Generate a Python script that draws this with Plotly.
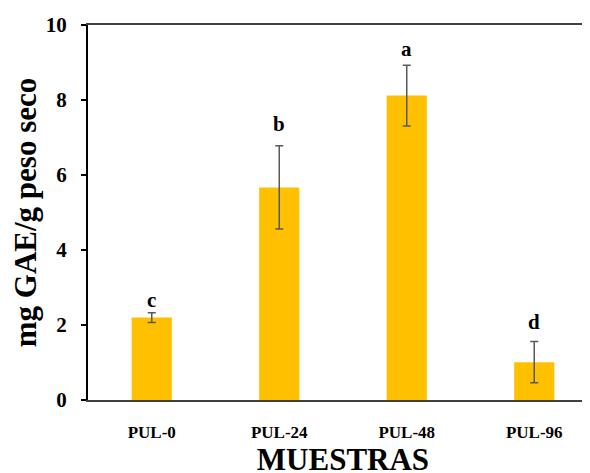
import plotly.graph_objects as go

categories = ["PUL-0", "PUL-24", "PUL-48", "PUL-96"]
values = [2.20, 5.67, 8.12, 1.01]
errors = [0.13, 1.11, 0.81, 0.55]
letters = ["c", "b", "a", "d"]
letter_y = [2.68, 7.37, 9.35, 2.07]
y_ticks = [0, 2, 4, 6, 8, 10]

FONT = "Liberation Serif"

fig = go.Figure()
fig.add_trace(go.Bar(
    x=list(range(len(categories))),
    y=values,
    width=0.315,
    marker=dict(color="#FFC000", line=dict(width=0)),
    error_y=dict(type="data", array=errors, visible=True,
                 color="#595959", thickness=1.5, width=4),
))

for i, (t, ly) in enumerate(zip(letters, letter_y)):
    fig.add_annotation(x=i, y=ly, text=f"<b>{t}</b>", showarrow=False,
                       font=dict(family=FONT, size=21, color="black"),
                       yanchor="middle", xanchor="center")

fig.update_layout(
    width=590, height=473,
    margin=dict(l=80, r=0, t=17, b=81),
    plot_bgcolor="white", paper_bgcolor="white",
    showlegend=False,
    font=dict(family=FONT, color="black"),
    xaxis=dict(
        range=[-0.5, 3.5],
        automargin=False,
        tickmode="array",
        tickvals=list(range(len(categories))),
        ticktext=[f"<b>{c}</b>" for c in categories],
        tickfont=dict(family=FONT, size=17, color="black"),
        ticks="", showgrid=False, zeroline=False,
        showline=True, linecolor="#404040", linewidth=2, mirror=True,
        ticklabelstandoff=16,
        title=dict(text="<b>MUESTRAS</b>", font=dict(family=FONT, size=31, color="black"), standoff=3),
    ),
    yaxis=dict(
        range=[0, 10],
        automargin=False,
        tickmode="array", tickvals=y_ticks,
        ticktext=[f"<b>{v}</b>" for v in y_ticks],
        tickfont=dict(family=FONT, size=21, color="black"),
        ticks="outside", ticklen=5, tickwidth=1.5, tickcolor="black",
        showgrid=False, zeroline=False,
        showline=True, linecolor="black", linewidth=2,
        ticklabelstandoff=10,
        title=dict(text="<b>mg GAE/g peso seco</b>", font=dict(family=FONT, size=31, color="black"), standoff=9),
    ),
)

fig.write_html("out.html")
